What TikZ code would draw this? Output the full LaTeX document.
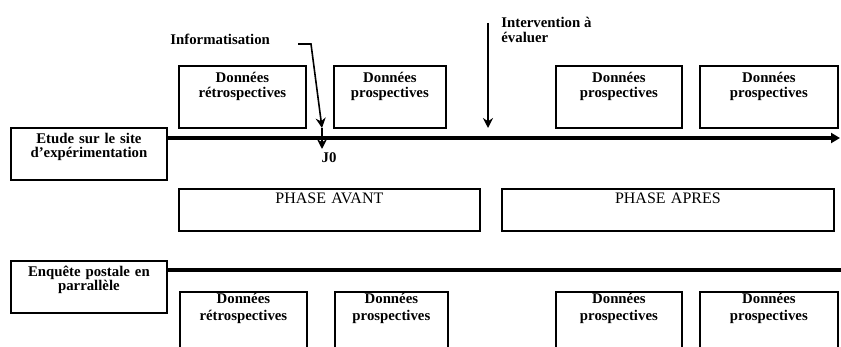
\documentclass[tikz,border=0pt]{standalone}
\usepackage{fontspec}
\setmainfont{Liberation Serif}
\usetikzlibrary{arrows.meta}

\tikzset{
  frame/.style={draw, line width=0.9pt, anchor=north west, inner xsep=0pt, inner ysep=0pt, align=center},
  boldtext/.style={font=\bfseries\fontsize{7.4}{#1}\selectfont},
  topbox/.style={frame, boldtext=7.5pt, text height=8.5pt, text depth=22.5pt},
  lowbox/.style={frame, boldtext=8.5pt, text height=6pt, text depth=40pt},
  sidebox/.style={frame, boldtext=7pt, text width=78pt, text height=8pt, text depth=18pt},
  phasebox/.style={frame, font=\fontsize{8}{9}\selectfont, text height=7.5pt, text depth=13.5pt},
  note/.style={inner sep=0pt, boldtext=7.5pt, align=left},
  axis/.style={line width=1.7pt},
  pointer/.style={line width=0.8pt, -{Stealth[length=5pt,width=5pt]}},
}

\begin{document}
\begin{tikzpicture}[x=0.5pt, y=-0.5pt]
\useasboundingbox (0,0) rectangle (841,347);
\clip (0,0) rectangle (841,347);

    % etude sur le site
    \node[sidebox] (site) at (10,127) {Etude sur le site\\d'expérimentation};
    \node[topbox, text width=63.5pt] (retro1) at (178,65) {Données\\rétrospectives};
    \node[topbox, text width=56pt] (prosp1) at (333,65) {Données\\prospectives};
    \node[topbox, text width=63pt] (prosp2) at (555,65) {Données\\prospectives};
    \node[topbox, text width=69pt] (prosp3) at (699,65) {Données\\prospectives};
    \coordinate (siteend) at (840,138);
    \draw[axis, -{Triangle[length=4.5pt, width=5pt]}] (site.east |- siteend) -- (siteend);

    % evenements
    \node[note, anchor=base west] (info) at (170,45) {Informatisation};
    \coordinate (infostart) at (298,44);
    \coordinate (infobend) at (311,44);
    \coordinate (jzerotop) at (322,128);
    \coordinate (jzerotip) at (322,149);
    \draw[pointer] (infostart) -- (infobend) -- (jzerotop);
    \draw[pointer] (jzerotop) -- (jzerotip);
    \node[note, anchor=base] (jzero) at (329,163) {J0};

    \node[note, anchor=north west] (interv) at (501,17) {Intervention à\\évaluer};
    \coordinate (intervtop) at (488,23);
    \coordinate (intervtip) at (488,128);
    \draw[pointer] (intervtop) -- (intervtip);

    % phases
    \node[phasebox, text width=150.5pt] (avant) at (178,188) {PHASE AVANT};
    \node[phasebox, text width=166pt] (apres) at (501,188) {PHASE APRES};

    % enquete postale
    \node[sidebox] (poste) at (10,260) {Enquête postale en\\parrallèle};
    \coordinate (posteend) at (841,270);
    \draw[axis] (poste.east |- posteend) -- (posteend);
    \node[lowbox, text width=63.5pt] (retro4) at (179,291) {Données\\rétrospectives};
    \node[lowbox, text width=56.5pt] (prosp4) at (334,291) {Données\\prospectives};
    \node[lowbox, text width=63pt] (prosp5) at (555,291) {Données\\prospectives};
    \node[lowbox, text width=69pt] (prosp6) at (699,291) {Données\\prospectives};
\end{tikzpicture}
\end{document}
